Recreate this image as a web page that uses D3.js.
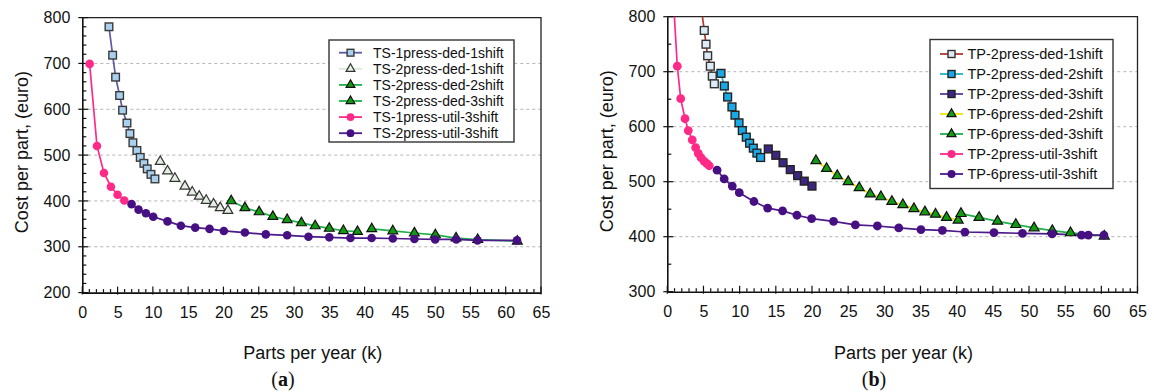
<!DOCTYPE html>
<html><head><meta charset="utf-8">
<script src="https://cdn.jsdelivr.net/npm/d3@7"></script>
<style>body{margin:0;background:#fff}svg{display:block}</style>
</head><body>
<svg id="c" width="1154" height="392"></svg>
<script>
// ---------- DATA (panel a) ----------
const xTicks = [0,5,10,15,20,25,30,35,40,45,50,55,60,65];
const yTicksA = [200,300,400,500,600,700,800];
const yTicksB = [300,400,500,600,700,800];
const xTitle = "Parts per year (k)";
const yTitle = "Cost per part, (euro)";

const ts1pDed1 = [[3.78,780],[4.3,718],[4.72,670],[5.29,630],[5.71,598],[6.33,570],[6.75,547],[7.17,527],[7.74,510],[8.21,495],[8.73,482],[9.2,470],[9.73,458],[10.29,448]];
const ts2pDed1 = [[11.04,486],[12.08,465],[13.12,449],[14.54,432],[15.58,419],[16.57,410],[17.56,401],[18.6,393],[19.54,385],[20.63,379]];
const ts2pDed2 = [[21.1,400],[23.04,385],[25.06,376],[27.0,366],[29.03,359],[31.05,352],[33.0,345.5],[35.0,340],[37.0,335],[39.0,333]];
const ts2pDed3 = [[41.02,339],[44.0,334.5],[47.06,330],[50.03,325.8],[52.96,319],[56.03,315.5],[61.64,312]];
const ts1pUtil3 = [[1.04,699],[2.08,520],[3.07,461],[4.06,431],[5.0,413.5],[5.95,401]];
const ts2pUtil3 = [[6.98,393],[7.97,381],[9.02,373],[10.05,365.6],[12.08,355.4],[13.97,346],[16.0,341.7],[18.03,339],[20.06,334.5],[23.04,331],[26.0,327],[29.03,325],[32.05,322],[35.0,320.6],[38.0,319],[41.0,319],[44.0,318],[47.06,317],[50.0,316],[53.0,316],[56.0,314],[61.6,314]];

// ---------- DATA (panel b) ----------
const tp2pDed1 = [[4.55,830],[5.11,775],[5.35,750],[5.58,729],[5.95,710],[6.22,692],[6.5,678]];
const tp2pDed2 = [[7.42,697],[7.88,674],[8.34,654],[8.94,636],[9.36,621],[9.91,607],[10.37,593],[10.92,581],[11.38,570],[11.89,561],[12.39,552],[12.9,544]];
const tp2pDed3 = [[13.96,559.5],[15.0,548],[16.0,534.5],[17.0,522],[18.02,511],[18.93,501],[20.0,492]];
const tp6pDed2 = [[20.55,538],[22.02,524],[23.49,511],[25.01,500],[26.53,489],[28.05,477.6],[29.53,472.5],[31.05,464],[32.57,458],[34.09,451],[35.61,445],[37.08,440.7],[38.6,435],[40.21,430]];
const tp6pDed3 = [[40.6,442],[43.1,435],[45.65,428],[48.18,422],[50.7,416],[53.22,411],[55.74,407],[60.4,401]];
const tp2pUtil3 = [[0.85,830],[1.38,710],[1.85,651],[2.45,614.5],[2.9,593],[3.45,576],[3.92,562],[4.28,551.6],[4.66,543.6],[5.07,537.6],[5.44,533.5],[5.8,529]];
const tp6pUtil3 = [[6.88,521],[7.86,505],[8.98,492],[9.95,480],[11.98,464],[13.87,452],[15.94,447],[17.92,439],[19.95,433],[22.98,428],[26.0,421.5],[29.04,419.5],[32.0,416],[35.06,413],[38.03,411.6],[41.14,408.5],[45.16,407.5],[49.1,406],[53.2,405],[57.26,402.8],[58.2,403],[60.36,403]];

const seriesA = [
  {name:"TS-1press-ded-1shift", data:ts1pDed1, line:"#5b5aa6", marker:"square", fill:"#a9d0ee", stroke:"#3a3a3a"},
  {name:"TS-2press-ded-1shift", data:ts2pDed1, line:"#d9ead6", marker:"triangle", fill:"#e4f1e2", stroke:"#333"},
  {name:"TS-2press-ded-2shift", data:ts2pDed2, line:"#1fb04a", marker:"triangle", fill:"#139a13", stroke:"#111"},
  {name:"TS-2press-ded-3shift", data:ts2pDed3, line:"#1fb04a", marker:"triangle", fill:"#139a13", stroke:"#111"},
  {name:"TS-1press-util-3shift", data:ts1pUtil3, line:"#ff2a88", marker:"circle", fill:"#ff2a88", stroke:"none"},
  {name:"TS-2press-util-3shift", data:ts2pUtil3, line:"#4c1a8a", marker:"circle", fill:"#460f82", stroke:"none"}
];
const seriesB = [
  {name:"TP-2press-ded-1shift", data:tp2pDed1, line:"#b5382e", marker:"square", fill:"#dcebf5", stroke:"#333"},
  {name:"TP-2press-ded-2shift", data:tp2pDed2, line:"#1fb5c4", marker:"square", fill:"#19a9e6", stroke:"#222"},
  {name:"TP-2press-ded-3shift", data:tp2pDed3, line:"#5b3c9e", marker:"square", fill:"#3d2680", stroke:"#222"},
  {name:"TP-6press-ded-2shift", data:tp6pDed2, line:"#f4e400", marker:"triangle", fill:"#139a13", stroke:"#111"},
  {name:"TP-6press-ded-3shift", data:tp6pDed3, line:"#1fb04a", marker:"triangle", fill:"#139a13", stroke:"#111"},
  {name:"TP-2press-util-3shift", data:tp2pUtil3, line:"#ff2a88", marker:"circle", fill:"#ff2a88", stroke:"none"},
  {name:"TP-6press-util-3shift", data:tp6pUtil3, line:"#4c1a8a", marker:"circle", fill:"#460f82", stroke:"none"}
];

const svg = d3.select("#c");
const FONT = "'Liberation Sans', Arial, sans-serif";

function drawMarker(g, type, cx, cy, fill, stroke, sz) {
  if (type === "square") {
    g.append("rect").attr("x", cx - sz/2).attr("y", cy - sz/2).attr("width", sz).attr("height", sz)
      .attr("fill", fill).attr("stroke", stroke).attr("stroke-width", 1.4);
  } else if (type === "triangle") {
    g.append("path").attr("d", d3.symbol(d3.symbolTriangle, sz*sz*0.72)())
      .attr("transform", `translate(${cx},${cy})`)
      .attr("fill", fill).attr("stroke", stroke).attr("stroke-width", 1.2);
  } else {
    g.append("circle").attr("cx", cx).attr("cy", cy).attr("r", sz/2 + 0.5).attr("fill", fill);
  }
}

function panel(cfg) {
  const x = d3.scaleLinear().domain([0,65]).range([cfg.x0, cfg.x1]);
  const y = d3.scaleLinear().domain(cfg.yDom).range([cfg.yb, cfg.yt]);
  const g = svg.append("g");
  const id = "clip" + cfg.key;
  svg.append("clipPath").attr("id", id).append("rect")
    .attr("x", cfg.x0).attr("y", cfg.yt).attr("width", cfg.x1 - cfg.x0).attr("height", cfg.yb - cfg.yt);

  // gridlines
  g.selectAll(".grid").data(cfg.yTicks.filter(v => v > cfg.yDom[0] && v < cfg.yDom[1])).enter()
    .append("line").attr("x1", cfg.x0).attr("x2", cfg.x1).attr("y1", d => y(d)).attr("y2", d => y(d))
    .attr("stroke", "#b5b5b5").attr("stroke-width", 1).attr("stroke-dasharray", "3,3");

  // frame top/right
  g.append("path").attr("d", `M${cfg.x0},${cfg.yt}H${cfg.x1}V${cfg.yb}`).attr("fill","none").attr("stroke","#222").attr("stroke-width",1.3);

  // x axis
  const xa = g.append("g").attr("transform", `translate(0,${cfg.yb})`)
    .call(d3.axisBottom(x).tickValues(xTicks).tickSize(0).tickPadding(14).tickFormat(d3.format("d")));
  xa.select(".domain").attr("stroke","#111").attr("stroke-width",1.6);
  xa.selectAll("text").attr("font-family", FONT).attr("font-size", 16).attr("fill","#111");
  const xMinor = d3.range(0, 66, 1);
  g.selectAll(".xmin").data(xMinor).enter().append("line")
    .attr("x1", d => x(d)).attr("x2", d => x(d))
    .attr("y1", d => d % 5 === 0 ? cfg.yb + 2 : cfg.yb)
    .attr("y2", d => d % 5 === 0 ? cfg.yb - 6 : cfg.yb - 3.5)
    .attr("stroke","#111").attr("stroke-width",1.2);

  // y axis
  const ya = g.append("g").attr("transform", `translate(${cfg.x0},0)`)
    .call(d3.axisLeft(y).tickValues(cfg.yTicks).tickSize(0).tickPadding(12).tickFormat(d3.format("d")));
  ya.select(".domain").attr("stroke","#111").attr("stroke-width",1.6);
  ya.selectAll("text").attr("font-family", FONT).attr("font-size", 16).attr("fill","#111");
  const yMinor = d3.range(cfg.yDom[0], cfg.yDom[1] + 1, cfg.yMinor);
  g.selectAll(".ymin").data(yMinor).enter().append("line")
    .attr("y1", d => y(d)).attr("y2", d => y(d))
    .attr("x1", d => d % 100 === 0 ? cfg.x0 - 4 : cfg.x0)
    .attr("x2", d => d % 100 === 0 ? cfg.x0 + 6 : cfg.x0 + 4)
    .attr("stroke","#111").attr("stroke-width",1.2);

  // titles
  g.append("text").attr("x", (cfg.x0 + cfg.x1)/2 + 1).attr("y", 359).attr("text-anchor","middle")
    .attr("font-family", FONT).attr("font-size", 18).attr("fill","#111").text(xTitle);
  g.append("text").attr("transform", `translate(${cfg.x0 - 54},${(cfg.yt + cfg.yb)/2 - 3}) rotate(-90)`)
    .attr("text-anchor","middle").attr("font-family", FONT).attr("font-size", 18).attr("fill","#111").text(yTitle);
  const cap = g.append("text").attr("x", cfg.capX).attr("y", 386).attr("text-anchor","middle")
    .attr("font-family", "'Liberation Serif', 'DejaVu Serif', serif").attr("font-size", 20).attr("fill","#111");
  cap.append("tspan").text("(");
  cap.append("tspan").attr("font-weight","bold").text(cfg.key);
  cap.append("tspan").text(")");

  // series
  const sg = g.append("g").attr("clip-path", `url(#${id})`);
  const line = d3.line().x(d => x(d[0])).y(d => y(d[1]));
  cfg.series.forEach(s => {
    sg.append("path").attr("d", line(s.data)).attr("fill","none").attr("stroke", s.line).attr("stroke-width", 1.7);
  });
  cfg.series.forEach(s => {
    s.data.forEach(d => drawMarker(sg, s.marker, x(d[0]), y(d[1]), s.fill, s.stroke, cfg.msz));
  });

  // legend
  const L = cfg.legend;
  const lg = g.append("g");
  lg.append("rect").attr("x", L.x).attr("y", L.y).attr("width", L.w).attr("height", L.h)
    .attr("fill","#fff").attr("stroke","#333").attr("stroke-width",1.4);
  cfg.series.forEach((s, i) => {
    const cy = L.y + L.first + i * L.step;
    lg.append("line").attr("x1", L.x + 10).attr("x2", L.x + 33).attr("y1", cy).attr("y2", cy)
      .attr("stroke", s.line).attr("stroke-width", 1.8);
    drawMarker(lg, s.marker, L.x + 21.5, cy, s.fill, s.stroke, cfg.msz - 0.8);
    lg.append("text").attr("x", L.x + L.tx).attr("y", cy).attr("dy","0.35em")
      .attr("font-family", FONT).attr("font-size", L.fs).attr("fill","#111").text(s.name);
  });
}

panel({key:"a", x0:82.3, x1:541, yt:17.6, yb:292.6, yDom:[200,800], yTicks:yTicksA, yMinor:20,
  series:seriesA, capX:283, msz:7.6,
  legend:{x:329, y:40, w:185, h:102, first:12.7, step:16.1, tx:44, fs:14}});
panel({key:"b", x0:667.3, x1:1137.5, yt:16.7, yb:291.7, yDom:[300,800], yTicks:yTicksB, yMinor:50,
  series:seriesB, capX:874, msz:7.8,
  legend:{x:930, y:39.5, w:183, h:149, first:14.5, step:20, tx:37.5, fs:14.5}});
</script>
</body></html>
